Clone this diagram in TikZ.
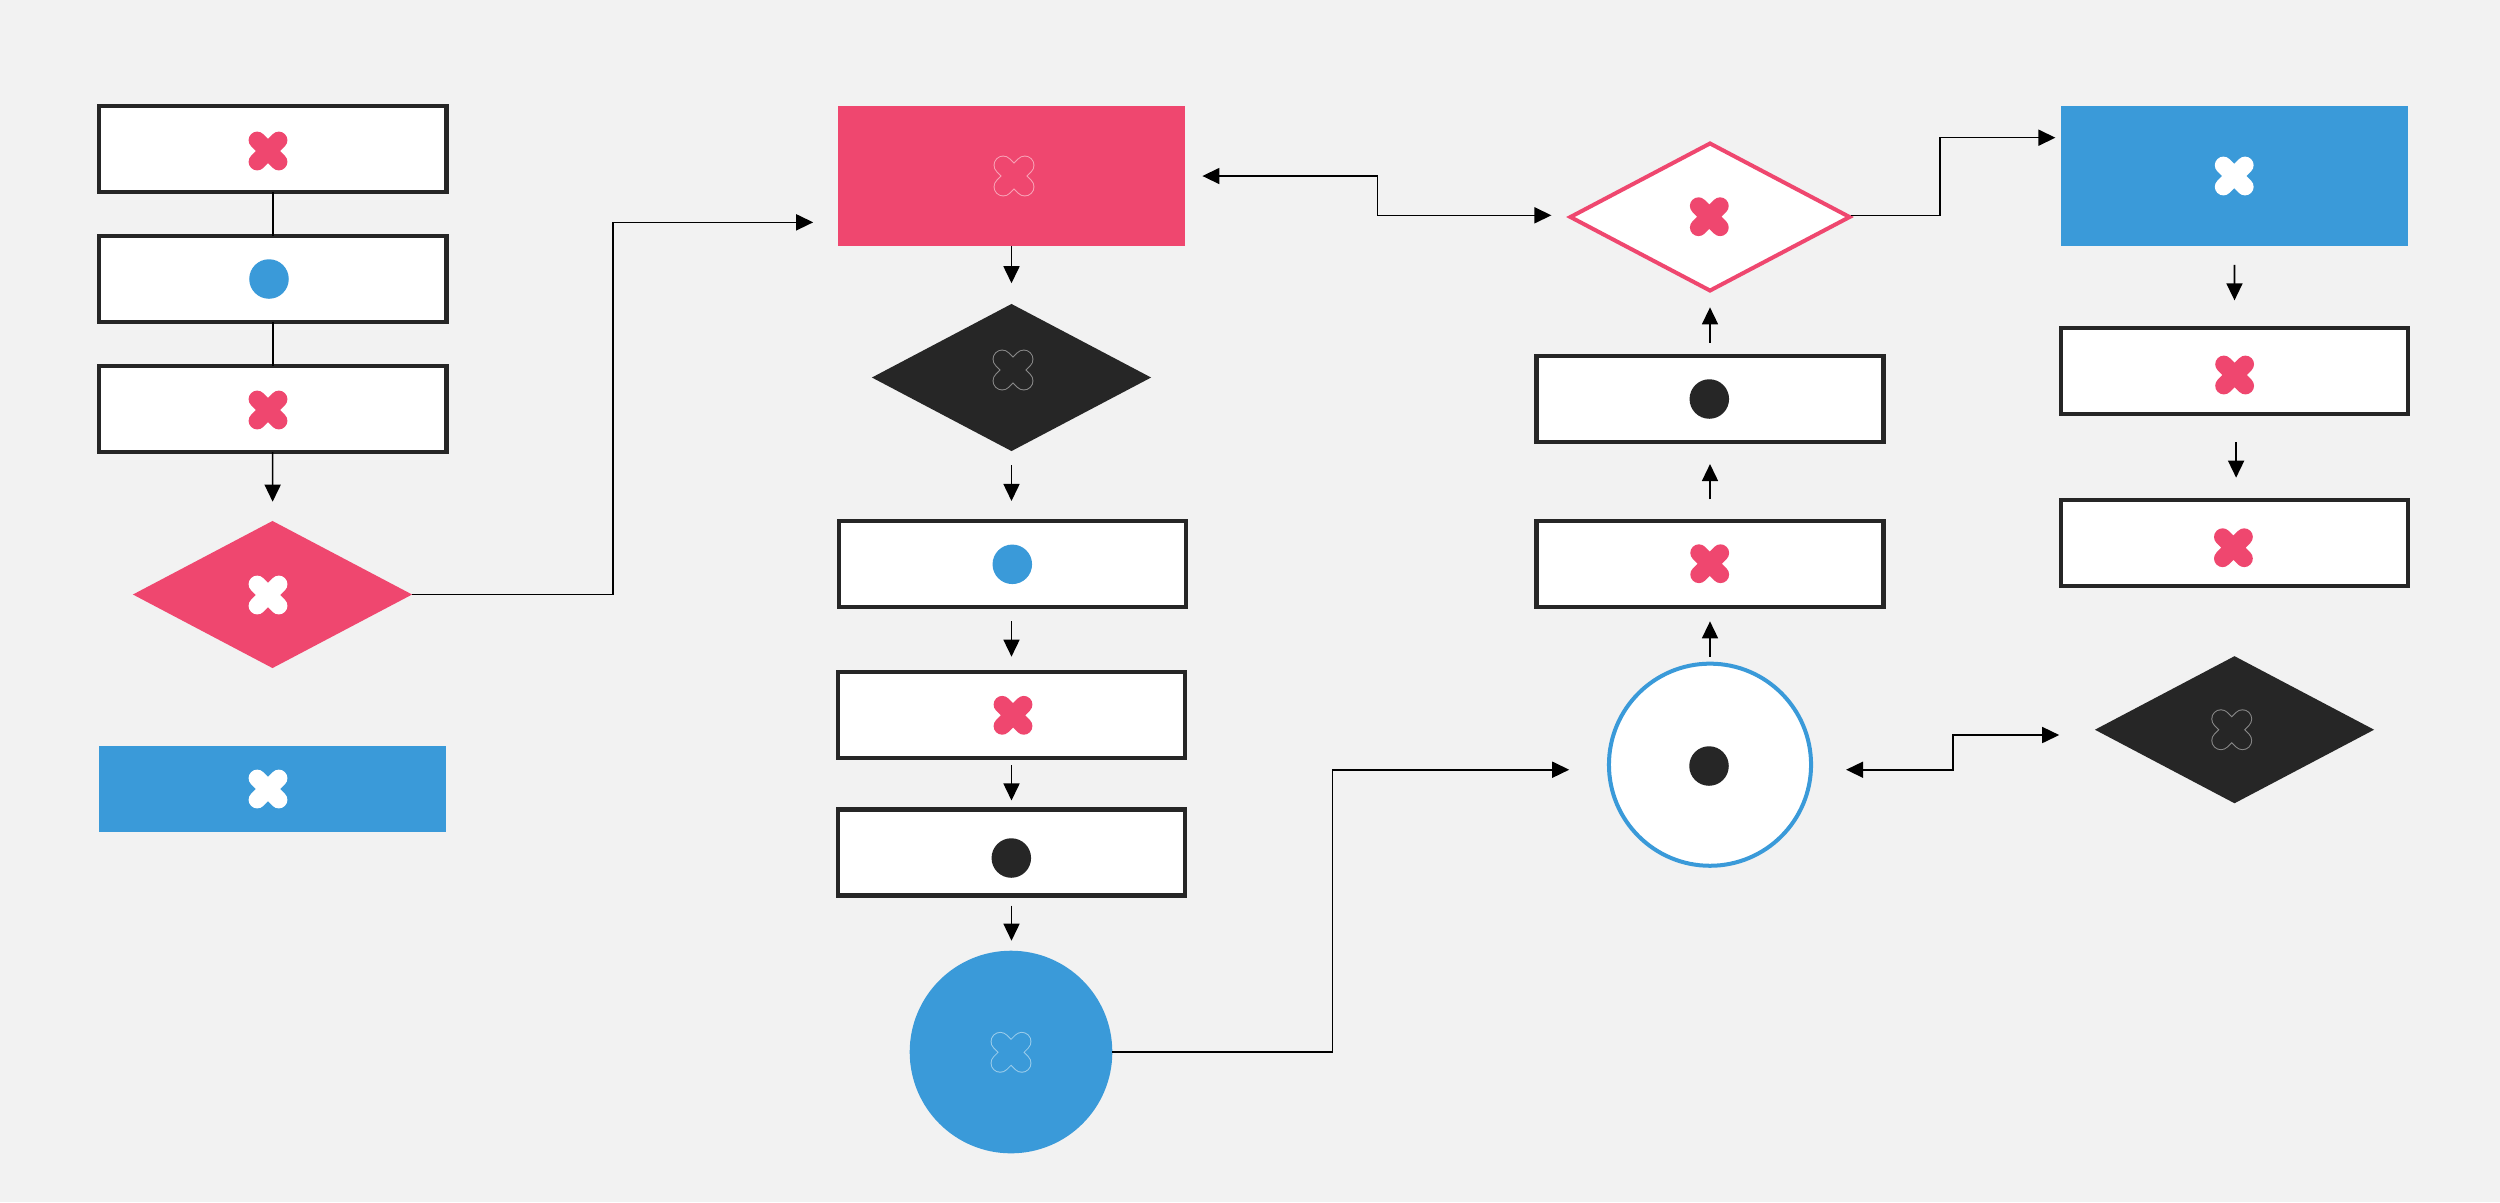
\documentclass[tikz,border=0pt]{standalone}
\usepackage{xcolor}
\usetikzlibrary{shapes.geometric,arrows.meta}

\definecolor{bggray}{HTML}{F2F2F2}
\definecolor{inkdark}{HTML}{262626}
\definecolor{rosered}{HTML}{EF476F}
\definecolor{skyblue}{HTML}{3A9AD9}
\definecolor{paleink}{HTML}{8A8A8A}
\definecolor{palerose}{HTML}{F8A3B7}
\definecolor{paleblue}{HTML}{9CCDEB}

\begin{document}
\begin{tikzpicture}[
      x=0.01cm, y=-0.01cm,
      boxwhite/.style={rectangle, draw=inkdark, fill=white, line width=0.043cm, minimum width=3.47cm, minimum height=0.86cm, inner sep=0pt, outer sep=0pt},
      boxsolid/.style={rectangle, minimum width=3.47cm, inner sep=0pt, outer sep=0pt},
      diamondsolid/.style={diamond, minimum width=2.79cm, minimum height=1.47cm, inner sep=0pt, outer sep=0pt},
      bigcircle/.style={circle, minimum size=2.02cm, inner sep=0pt, outer sep=0pt},
      flowdot/.style={circle, minimum size=0.395cm, inner sep=0pt, outer sep=0pt},
      plainline/.style={line width=0.016cm, black},
      arrow/.style={-{Triangle[length=0.17cm, width=0.16cm]}, line width=0.016cm, black},
      biarrow/.style={{Triangle[length=0.17cm, width=0.16cm]}-{Triangle[length=0.17cm, width=0.16cm]}, line width=0.016cm, black},
      crossicon/.pic={\draw[line width=0.172cm, line cap=round] (-10.8,-10.8) -- (10.8,10.8) (-10.8,10.8) -- (10.8,-10.8);},
      crossedge/.pic={\draw[line width=0.192cm, line cap=round] (-10.8,-10.8) -- (10.8,10.8) (-10.8,10.8) -- (10.8,-10.8);}
    ]

      \path[use as bounding box, fill=bggray] (0,0) rectangle (2500,1202);

      % Left column
      \node[boxwhite] (left1) at (272.75,149) {};
      \node[boxwhite] (left2) at (272.75,279) {};
      \node[boxwhite] (left3) at (272.75,409) {};
      \node[diamondsolid, fill=rosered] (leftdia) at (272.5,594.5) {};
      \node[boxsolid, fill=skyblue, minimum height=0.86cm] (leftblue) at (272.5,789) {};
      \pic[color=rosered] at (268,151) {crossicon};
      \node[flowdot, fill=skyblue] (leftdot) at (269,279) {};
      \pic[color=rosered] at (268,410) {crossicon};
      \pic[color=white] at (268,595) {crossicon};
      \pic[color=white] at (268,789) {crossicon};

      % Middle column
      \node[boxsolid, fill=rosered, minimum height=1.4cm] (midpink) at (1011.5,176) {};
      \node[diamondsolid, fill=inkdark] (middia) at (1011.5,377.5) {};
      \node[boxwhite] (mid1) at (1012.5,564) {};
      \node[boxwhite] (mid2) at (1011.5,715.3) {};
      \node[boxwhite] (mid3) at (1011.5,852.5) {};
      \node[bigcircle, fill=skyblue, minimum size=2.025cm] (midcircle) at (1011,1052) {};
      \pic[color=palerose] at (1014,176) {crossedge};
      \pic[color=rosered] at (1014,176) {crossicon};
      \pic[color=paleink] at (1013,370) {crossedge};
      \pic[color=inkdark] at (1013,370) {crossicon};
      \node[flowdot, fill=skyblue] (mid1dot) at (1012.3,564.3) {};
      \pic[color=rosered] at (1013,715.3) {crossicon};
      \node[flowdot, fill=inkdark] (mid3dot) at (1011.3,858) {};
      \pic[color=paleblue] at (1011,1052.3) {crossedge};
      \pic[color=skyblue] at (1011,1052.3) {crossicon};

      % Upward column
      \node[diamondsolid, draw=rosered, fill=white, line width=0.04cm] (updia) at (1710,217) {};
      \node[boxwhite] (up2) at (1710,399.3) {};
      \node[boxwhite] (up1) at (1710,564) {};
      \node[bigcircle, draw=skyblue, fill=white, line width=0.04cm] (upcircle) at (1710,764.7) {};
      \pic[color=rosered] at (1709.3,216.7) {crossicon};
      \node[flowdot, fill=inkdark] (up2dot) at (1709.3,399) {};
      \pic[color=rosered] at (1709.7,563.7) {crossicon};
      \node[flowdot, fill=inkdark] (updot) at (1709,766) {};

      % Right column
      \node[boxsolid, fill=skyblue, minimum height=1.4cm] (rightblue) at (2234.3,176) {};
      \node[boxwhite] (right1) at (2234.6,371) {};
      \node[boxwhite] (right2) at (2234.6,543) {};
      \node[diamondsolid, fill=inkdark] (rightdia) at (2234.5,729.7) {};
      \pic[color=white] at (2234.2,176) {crossicon};
      \pic[color=rosered] at (2234.6,375) {crossicon};
      \pic[color=rosered] at (2233.4,547.7) {crossicon};
      \pic[color=paleink] at (2231.7,729.7) {crossedge};
      \pic[color=inkdark] at (2231.7,729.7) {crossicon};

      % Arrows left
      \draw[plainline] (left1) -- (left2);
      \draw[plainline] (left2) -- (left3);
      \draw[arrow, shorten >=0.193cm] (left3) -- (leftdia);
      \draw[arrow, shorten >=0.247cm] (leftdia.east) -- ++(201,0) |- ([yshift=-0.463cm]midpink.west);

      % Arrows middle
      \draw[arrow, shorten >=0.207cm] (midpink) -- (middia);
      \draw[arrow, shorten <=0.14cm, shorten >=0.2cm] (middia.south) -- (mid1.north -| middia.south);
      \draw[arrow, shorten <=0.143cm, shorten >=0.156cm] (mid1.south -| mid2.north) -- (mid2.north);
      \draw[arrow, shorten <=0.067cm, shorten >=0.09cm] (mid2) -- (mid3);
      \draw[arrow, shorten <=0.1cm, shorten >=0.1cm] (mid3.south) -- (midcircle.north -| mid3.south);
      \draw[arrow, shorten >=0.397cm] (midcircle.east) -- ++(220.3,0) |- ([yshift=-0.05cm]upcircle.west);

      % Arrows upward
      \draw[arrow, shorten <=0.07cm, shorten >=0.143cm] (upcircle.north) -- (up1.south);
      \draw[arrow, shorten <=0.216cm, shorten >=0.217cm] (up1) -- (up2);
      \draw[arrow, shorten <=0.133cm, shorten >=0.168cm] (up2) -- (updia);
      \draw[biarrow, shorten <=0.173cm, shorten >=0.19cm] (midpink.east) -- ++(192.3,0) |- ([yshift=0.017cm]updia.west);
      \draw[arrow, shorten <=0.01cm, shorten >=0.053cm] ([yshift=0.017cm]updia.east) -- ++(90.5,0) |- ([yshift=0.383cm]rightblue.west);
      \draw[biarrow, shorten <=0.35cm, shorten >=0.357cm] ([yshift=-0.05cm]upcircle.east) -- ++(141.7,0) |- ([yshift=-0.053cm]rightdia.west);

      % Arrows right
      \draw[arrow, shorten <=0.187cm, shorten >=0.276cm] (rightblue) -- (right1);
      \draw[arrow, shorten <=0.283cm, shorten >=0.223cm] ([xshift=0.015cm]right1.south) -- ([xshift=0.015cm]right2.north);

    \end{tikzpicture}
\end{document}
